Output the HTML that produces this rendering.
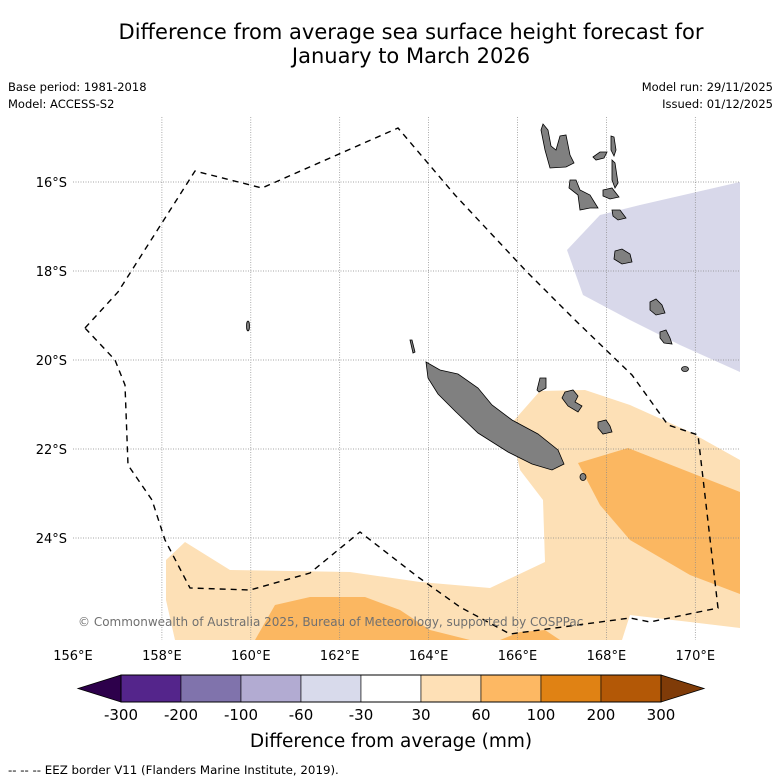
<!DOCTYPE html>
<html><head><meta charset="utf-8">
<style>
html,body{margin:0;padding:0;background:#fff;}
svg{display:block;font-family:"DejaVu Sans","Liberation Sans",sans-serif;}
</style></head>
<body>
<svg id="chart" width="781" height="781" viewBox="0 0 781 781" xmlns="http://www.w3.org/2000/svg">
<rect width="781" height="781" fill="#fff"/>
<text x="411" y="39" font-size="21" text-anchor="middle" fill="#000">Difference from average sea surface height forecast for</text>
<text x="411" y="63" font-size="21" text-anchor="middle" fill="#000">January to March 2026</text>
<text x="8" y="91" font-size="11.5">Base period: 1981-2018</text>
<text x="8" y="108" font-size="11.5">Model: ACCESS-S2</text>
<text x="773" y="91" font-size="11.5" text-anchor="end">Model run: 29/11/2025</text>
<text x="773" y="108" font-size="11.5" text-anchor="end">Issued: 01/12/2025</text>

<g>
<clipPath id="mc"><rect x="73" y="117" width="667" height="523"/></clipPath>
<g clip-path="url(#mc)">
<polygon fill="#d8d8ea" points="567,250 600,215 640,205 740,182 740,372 680,345 630,320 583,295"/>
<polygon fill="#fde0b6" points="166,560 185,542 230,570 350,572 420,582 490,588 545,562 543,500 520,470 510,425 540,391 585,390 630,405 690,432 740,460 740,628 690,622 630,615 622,640 175,640 166,600"/>
<polygon fill="#fbb761" points="578,463 628,448 740,492 740,594 690,575 630,540 600,505"/>
<polygon fill="#fbb761" points="255,640 275,605 310,597 365,597 400,610 430,630 470,640"/>
<polygon fill="#fbb761" points="500,640 520,632 545,630 560,640"/>
</g>
<g id="grid" stroke="#888" stroke-width="0.7" stroke-dasharray="1,1.5"></g>
<g fill="#808080" stroke="#000" stroke-width="0.8">
<polygon points="426,362 440,370 458,374 478,388 492,405 512,420 538,434 558,450 564,464 552,470 532,464 508,452 478,433 456,412 438,394 428,378"/>
<polygon points="543,124 548,130 551,146 556,150 560,136 566,135 570,155 574,163 566,167 550,168 545,150 541,130"/>
<polygon points="570,180 576,180 580,190 590,195 598,208 590,208 580,210 578,195 569,188"/>
<polygon points="593,157 600,152 607,152 604,158 596,160"/>
<polygon points="611,136 614,137 616,150 614,156 611,150"/>
<polygon points="612,160 615,163 618,183 615,188 612,180"/>
<polygon points="603,190 612,188 619,197 610,199 603,196"/>
<polygon points="612,210 620,210 626,218 618,220 613,216"/>
<polygon points="615,251 622,249 630,254 632,262 622,264 614,259"/>
<polygon points="650,302 656,299 662,305 665,313 656,315 650,310"/>
<polygon points="660,332 666,330 670,338 672,344 664,343 660,338"/>
<ellipse cx="685" cy="369" rx="3.5" ry="2.5"/>
<polygon points="565,392 573,390 578,396 575,402 582,406 578,412 568,406 562,398"/>
<polygon points="598,422 606,420 610,426 612,432 603,434 598,428"/>
<polygon points="540,378 546,378 546,388 539,392 537,390"/>
<ellipse cx="583" cy="477" rx="3" ry="3.5"/>
<ellipse cx="248" cy="326" rx="1.5" ry="5"/>
<polygon points="410,340 412,340 415,352 413,353"/>
</g>
<polyline fill="none" stroke="#000" stroke-width="1.4" stroke-dasharray="6,5" points="85,328 118,292 195,171 262,188 398,128 455,195 527,272 575,320 632,375 668,425 698,435 718,608 650,622 630,618 510,634 460,607 418,577 360,532 310,573 250,590 190,588 165,540 152,500 128,465 125,385 115,360 85,328"/>
<text x="78" y="626" font-size="12" fill="#707070">© Commonwealth of Australia 2025, Bureau of Meteorology, supported by COSPPac</text>
<g id="axlabels"></g>
</g>

<g id="colorbar"></g>
<text x="391" y="747" font-size="18.5" text-anchor="middle">Difference from average (mm)</text>
<text x="8" y="774" font-size="11.8">--  --  -- EEZ border V11 (Flanders Marine Institute, 2019).</text>
</svg>
<script>
const lonTicks = [156,158,160,162,164,166,168,170];
const latTicks = [16,18,20,22,24];
const cbLevels = ["-300","-200","-100","-60","-30","30","60","100","200","300"];
const cbColors = ["#54258b","#8073ac","#b2abd2","#d8daeb","#ffffff","#fee0b6","#fdb863","#e08214","#b35806"];
const cbLow = "#2d004b";
const cbHigh = "#7f3b08";

const NS="http://www.w3.org/2000/svg";
function mk(t,a,p){const e=document.createElementNS(NS,t);for(const k in a)e.setAttribute(k,a[k]);p.appendChild(e);return e;}
const xLon = lon => 73 + (lon-156)*44.45;
const yLat = lat => 182 + (lat-16)*44.5;
const grid=document.getElementById('grid');
const axl=document.getElementById('axlabels');
lonTicks.forEach(l=>{
  const x=xLon(l);
  if(l>156){const g=mk('line',{x1:x,x2:x,y1:117,y2:640},grid);
  
  }
  const t=mk('text',{x:x,y:660,'font-size':13,'text-anchor':'middle'},axl);
  t.textContent=l+'°E';
  
  
});
latTicks.forEach(l=>{
  const y=yLat(l);
  const g=mk('line',{x1:73,x2:740,y1:y,y2:y},grid);
  
  
  const t=mk('text',{x:67,y:y+5,'font-size':13,'text-anchor':'end'},axl);
  t.textContent=l+'°S';
  
  
});
const cb=document.getElementById('colorbar');
const cx0=121, cw=60, cy0=675, ch=27;
const lt=mk('polygon',{points:`${cx0},${cy0} ${cx0-43},${cy0+ch/2} ${cx0},${cy0+ch}`,fill:cbLow,stroke:'#000','stroke-width':0.8},cb);


const xe=cx0+cw*cbColors.length;
const rt=mk('polygon',{points:`${xe},${cy0} ${xe+43},${cy0+ch/2} ${xe},${cy0+ch}`,fill:cbHigh,stroke:'#000','stroke-width':0.8},cb);


cbColors.forEach((c,i)=>{
  const r=mk('rect',{x:cx0+i*cw,y:cy0,width:cw,height:ch,fill:c,stroke:'#000','stroke-width':0.6},cb);
  
  
});
mk('rect',{x:cx0,y:cy0,width:cw*cbColors.length,height:ch,fill:'none',stroke:'#000','stroke-width':1},cb);
cbLevels.forEach((v,i)=>{
  const t=mk('text',{x:cx0+i*cw,y:720,'font-size':15,'text-anchor':'middle'},cb);
  t.textContent=v;
  
  
});
</script>
</body></html>
